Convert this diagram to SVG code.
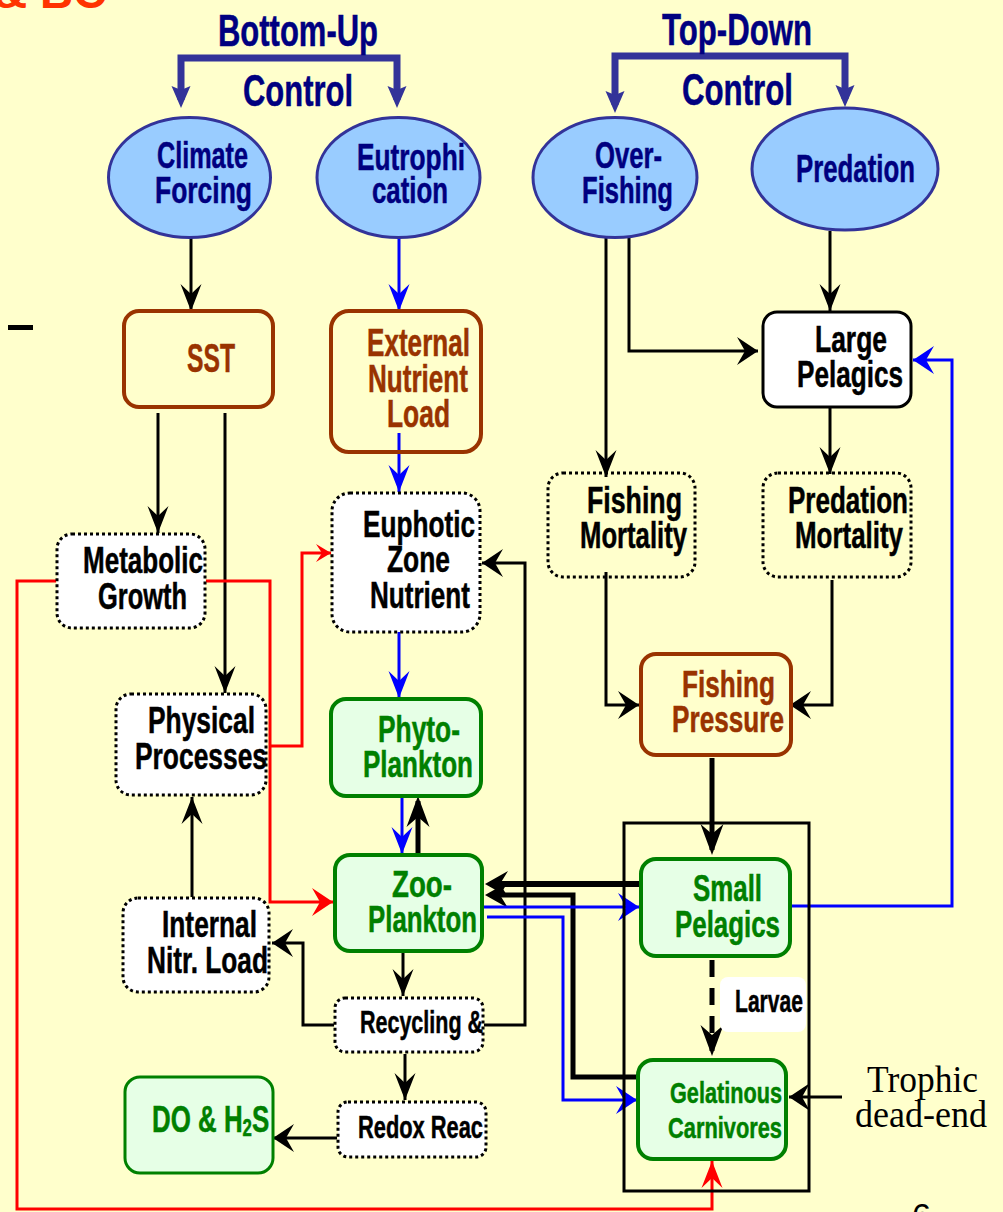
<svg xmlns="http://www.w3.org/2000/svg" width="1003" height="1212" viewBox="0 0 1003 1212">
<style>
.t{font-family:"Liberation Sans",Arial,sans-serif;font-weight:bold;stroke-width:0.5}
.nv{fill:#000080;stroke:#000080}.brn{fill:#993300;stroke:#993300}.grn{fill:#008000;stroke:#008000}.blk{fill:#000;stroke:#000}
.ell{fill:#99CCFF;stroke:#333399;stroke-width:3}
.bbox{fill:none;stroke:#993300;stroke-width:4}
.gbox{fill:#E6FFE6;stroke:#008000;stroke-width:4}
.dbox{fill:#fff;stroke:#000;stroke-width:3;stroke-dasharray:3 3}
.dboxy{fill:none;stroke:#000;stroke-width:3;stroke-dasharray:3 3}
.k{fill:none;stroke:#000;stroke-width:3}
.b{fill:none;stroke:#0000FF;stroke-width:3}
.r{fill:none;stroke:#FF0000;stroke-width:3}
.brk{fill:none;stroke:#333399;stroke-width:7}
</style>
<defs>
<marker id="nk" markerUnits="userSpaceOnUse" orient="auto" overflow="visible" markerWidth="1" markerHeight="1"><path d="M0,0 L-27,-10.5 L-17,0 L-27,10.5 Z" fill="#000"/></marker>
<marker id="wk" markerUnits="userSpaceOnUse" orient="auto" overflow="visible" markerWidth="1" markerHeight="1"><path d="M0,0 L-21,-14 L-13,0 L-21,14 Z" fill="#000"/></marker>
<marker id="nb" markerUnits="userSpaceOnUse" orient="auto" overflow="visible" markerWidth="1" markerHeight="1"><path d="M0,0 L-27,-10.5 L-17,0 L-27,10.5 Z" fill="#0000FF"/></marker>
<marker id="wb" markerUnits="userSpaceOnUse" orient="auto" overflow="visible" markerWidth="1" markerHeight="1"><path d="M0,0 L-21,-14 L-13,0 L-21,14 Z" fill="#0000FF"/></marker>
<marker id="nr" markerUnits="userSpaceOnUse" orient="auto" overflow="visible" markerWidth="1" markerHeight="1"><path d="M0,0 L-27,-10.5 L-17,0 L-27,10.5 Z" fill="#FF0000"/></marker>
<marker id="wr" markerUnits="userSpaceOnUse" orient="auto" overflow="visible" markerWidth="1" markerHeight="1"><path d="M0,0 L-21,-14 L-13,0 L-21,14 Z" fill="#FF0000"/></marker>
<marker id="sr" markerUnits="userSpaceOnUse" orient="auto" overflow="visible" markerWidth="1" markerHeight="1"><path d="M0,0 L-15,-9 L-9,0 L-15,9 Z" fill="#FF0000"/></marker>
<marker id="tv" markerUnits="userSpaceOnUse" orient="auto" overflow="visible" markerWidth="1" markerHeight="1"><path d="M5,0 L-26,-11.5 L-16,0 L-26,11.5 Z" fill="#000"/></marker>
<marker id="th" markerUnits="userSpaceOnUse" orient="auto" overflow="visible" markerWidth="1" markerHeight="1"><path d="M5,0 L-18,-13 L-10,0 L-18,13 Z" fill="#000"/></marker>
<marker id="bq" markerUnits="userSpaceOnUse" orient="auto-start-reverse" overflow="visible" markerWidth="1" markerHeight="1"><path d="M8,0 L-14,-9.5 L-10,0 L-14,9.5 Z" fill="#333399"/></marker>
</defs>
<rect x="0" y="0" width="1003" height="1212" fill="#FFFFCC"/>

<!-- decorative fragments -->
<text class="t" x="-6" y="8" font-size="46" fill="#FF3300" stroke="none">&amp; BC</text>
<rect x="8" y="325" width="25" height="5" fill="#000"/>
<text x="912" y="1227" font-family="Liberation Sans,Arial,sans-serif" font-size="34" fill="#000">6</text>

<!-- titles -->
<g id="bottom-up-control">
<path class="brk" d="M181,100 V58 H397 V100" marker-start="url(#bq)" marker-end="url(#bq)"/>
<text class="t nv" x="218" y="46" font-size="45" textLength="160" lengthAdjust="spacingAndGlyphs">Bottom-Up</text>
<text class="t nv" x="243" y="106" font-size="45" textLength="110" lengthAdjust="spacingAndGlyphs">Control</text>
</g>
<g id="top-down-control">
<path class="brk" d="M615,105 V56 H845 V99" marker-start="url(#bq)" marker-end="url(#bq)"/>
<text class="t nv" x="662" y="45" font-size="45" textLength="150" lengthAdjust="spacingAndGlyphs">Top-Down</text>
<text class="t nv" x="682" y="105" font-size="45" textLength="111" lengthAdjust="spacingAndGlyphs">Control</text>
</g>

<!-- connectors -->
<g id="connectors">
<path class="k" d="M191,238 V311" marker-end="url(#nk)"/>
<path class="k" d="M158,413 V533" marker-end="url(#nk)"/>
<path class="k" d="M225,413 V693" marker-end="url(#nk)"/>
<path class="k" d="M192,897 V797" marker-end="url(#nk)"/>
<path class="k" d="M334,1025 H303 V943 H272" marker-end="url(#wk)"/>
<path class="k" d="M484,1025 H525 V563 H482" marker-end="url(#wk)"/>
<path class="k" d="M403,952 V996" marker-end="url(#nk)"/>
<path class="k" d="M405,1054 V1100" marker-end="url(#nk)"/>
<path class="k" d="M337,1138 H273" marker-end="url(#wk)"/>
<path class="k" d="M606,236 V477" marker-end="url(#nk)"/>
<path class="k" d="M629,234 V351 H758" marker-end="url(#wk)"/>
<path class="k" d="M830,231 V311" marker-end="url(#nk)"/>
<path class="k" d="M830,408 V474" marker-end="url(#nk)"/>
<path class="k" d="M606,572 V705 H639" marker-end="url(#wk)"/>
<path class="k" d="M832,580 V705 H790" marker-end="url(#wk)"/>
<path class="k" d="M842,1097 H789" marker-end="url(#wk)"/>
<path class="k" d="M418,854 V801" style="stroke-width:5" marker-end="url(#tv)"/>
<path class="k" d="M712,758 V850" style="stroke-width:5" marker-end="url(#tv)"/>
<path class="k" d="M640,884 H490" style="stroke-width:6" marker-end="url(#th)"/>
<path class="k" d="M637,1077 H573 V895 H490" style="stroke-width:5" marker-end="url(#th)"/>
<path class="k" d="M712,960 V1051" style="stroke-width:5;stroke-dasharray:17 11" marker-end="url(#tv)"/>
<path class="b" d="M399,238 V311" marker-end="url(#nb)"/>
<path class="b" d="M399,433 V492" marker-end="url(#nb)"/>
<path class="b" d="M399,602 V698" marker-end="url(#nb)"/>
<path class="b" d="M402,797 V854" marker-end="url(#nb)"/>
<path class="b" d="M483,907 H639" marker-end="url(#wb)"/>
<path class="b" d="M487,917 H563 V1100 H637" marker-end="url(#wb)"/>
<path class="b" d="M791,906 H952 V360 H913" marker-end="url(#wb)"/>
<path class="r" d="M56,581 H17 V1209 H712 V1161" marker-end="url(#nr)"/>
<path class="r" d="M206,581 H270 V902 H333" marker-end="url(#wr)"/>
<path class="r" d="M270,746 H302 V553 H331" marker-end="url(#sr)"/>
</g>

<!-- ellipses -->
<g id="climate-forcing">
<ellipse class="ell" cx="189.5" cy="177.5" rx="81" ry="60"/>
<text class="t nv" x="157" y="168" font-size="36" textLength="91" lengthAdjust="spacingAndGlyphs">Climate</text>
<text class="t nv" x="155" y="203" font-size="36" textLength="97" lengthAdjust="spacingAndGlyphs">Forcing</text>
</g>
<g id="eutrophication">
<ellipse class="ell" cx="398.5" cy="177.5" rx="81.5" ry="60"/>
<text class="t nv" x="357" y="170" font-size="36" textLength="108" lengthAdjust="spacingAndGlyphs">Eutrophi</text>
<text class="t nv" x="372" y="203" font-size="36" textLength="76" lengthAdjust="spacingAndGlyphs">cation</text>
</g>
<g id="over-fishing">
<ellipse class="ell" cx="615" cy="177.5" rx="82" ry="60"/>
<text class="t nv" x="595" y="168" font-size="36" textLength="67" lengthAdjust="spacingAndGlyphs">Over-</text>
<text class="t nv" x="582" y="203" font-size="36" textLength="91" lengthAdjust="spacingAndGlyphs">Fishing</text>
</g>
<g id="predation">
<ellipse class="ell" cx="845" cy="169" rx="93" ry="61"/>
<text class="t nv" x="796" y="182" font-size="39" textLength="119" lengthAdjust="spacingAndGlyphs">Predation</text>
</g>

<!-- boxes -->
<g id="sst">
<rect class="bbox" x="124" y="311" width="149" height="96" rx="15"/>
<text class="t brn" x="187" y="372" font-size="40" textLength="48" lengthAdjust="spacingAndGlyphs">SST</text>
</g>
<g id="external-nutrient-load">
<rect class="bbox" x="331" y="311" width="150" height="141" rx="18"/>
<text class="t brn" x="367" y="356" font-size="38" textLength="103" lengthAdjust="spacingAndGlyphs">External</text>
<text class="t brn" x="368" y="392" font-size="38" textLength="100" lengthAdjust="spacingAndGlyphs">Nutrient</text>
<text class="t brn" x="387" y="427" font-size="38" textLength="63" lengthAdjust="spacingAndGlyphs">Load</text>
</g>
<g id="metabolic-growth">
<rect class="dbox" x="57" y="534" width="148" height="94" rx="15"/>
<text class="t blk" x="83" y="573" font-size="36" textLength="120" lengthAdjust="spacingAndGlyphs">Metabolic</text>
<text class="t blk" x="98" y="609" font-size="36" textLength="89" lengthAdjust="spacingAndGlyphs">Growth</text>
</g>
<g id="euphotic-zone-nutrient">
<rect class="dbox" x="332" y="493" width="148" height="139" rx="18"/>
<text class="t blk" x="363" y="537" font-size="36" textLength="112" lengthAdjust="spacingAndGlyphs">Euphotic</text>
<text class="t blk" x="387" y="572" font-size="36" textLength="63" lengthAdjust="spacingAndGlyphs">Zone</text>
<text class="t blk" x="370" y="608" font-size="36" textLength="100" lengthAdjust="spacingAndGlyphs">Nutrient</text>
</g>
<g id="large-pelagics">
<rect x="763" y="312" width="148" height="95" rx="14" fill="#fff" stroke="#000" stroke-width="3"/>
<text class="t blk" x="815" y="352" font-size="37" textLength="72" lengthAdjust="spacingAndGlyphs">Large</text>
<text class="t blk" x="797" y="387" font-size="37" textLength="106" lengthAdjust="spacingAndGlyphs">Pelagics</text>
</g>
<g id="fishing-mortality">
<rect class="dboxy" x="548" y="473" width="147" height="104" rx="15"/>
<text class="t blk" x="587" y="513" font-size="36" textLength="95" lengthAdjust="spacingAndGlyphs">Fishing</text>
<text class="t blk" x="580" y="548" font-size="36" textLength="107" lengthAdjust="spacingAndGlyphs">Mortality</text>
</g>
<g id="predation-mortality">
<rect class="dboxy" x="763" y="473" width="148" height="104" rx="15"/>
<text class="t blk" x="788" y="513" font-size="36" textLength="120" lengthAdjust="spacingAndGlyphs">Predation</text>
<text class="t blk" x="795" y="548" font-size="36" textLength="108" lengthAdjust="spacingAndGlyphs">Mortality</text>
</g>
<g id="physical-processes">
<rect class="dbox" x="116" y="694" width="150" height="101" rx="15"/>
<text class="t blk" x="148" y="733" font-size="36" textLength="107" lengthAdjust="spacingAndGlyphs">Physical</text>
<text class="t blk" x="135" y="769" font-size="36" textLength="132" lengthAdjust="spacingAndGlyphs">Processes</text>
</g>
<g id="phyto-plankton">
<rect class="gbox" x="331" y="699" width="150" height="97" rx="15"/>
<text class="t grn" x="378" y="742" font-size="37" textLength="82" lengthAdjust="spacingAndGlyphs">Phyto-</text>
<text class="t grn" x="363" y="777" font-size="37" textLength="110" lengthAdjust="spacingAndGlyphs">Plankton</text>
</g>
<g id="zoo-plankton">
<rect class="gbox" x="335" y="855" width="147" height="96" rx="15"/>
<text class="t grn" x="392" y="897" font-size="37" textLength="60" lengthAdjust="spacingAndGlyphs">Zoo-</text>
<text class="t grn" x="368" y="932" font-size="37" textLength="109" lengthAdjust="spacingAndGlyphs">Plankton</text>
</g>
<g id="internal-nitr-load">
<rect class="dbox" x="123" y="898" width="146" height="94" rx="15"/>
<text class="t blk" x="162" y="937" font-size="36" textLength="95" lengthAdjust="spacingAndGlyphs">Internal</text>
<text class="t blk" x="147" y="973" font-size="36" textLength="121" lengthAdjust="spacingAndGlyphs">Nitr. Load</text>
</g>
<g id="recycling">
<rect class="dbox" x="335" y="998" width="148" height="54" rx="10"/>
<text class="t blk" x="360" y="1033" font-size="32" textLength="123" lengthAdjust="spacingAndGlyphs">Recycling &amp;</text>
</g>
<g id="redox-reac">
<rect class="dbox" x="338" y="1102" width="148" height="55" rx="10"/>
<text class="t blk" x="358" y="1138" font-size="32" textLength="125" lengthAdjust="spacingAndGlyphs">Redox Reac</text>
</g>
<g id="do-h2s">
<rect class="gbox" x="125" y="1077" width="148" height="96" rx="15" style="stroke-width:3"/>
<text class="t grn" font-size="37" transform="translate(152,1132) scale(0.7,1)">DO &amp; H<tspan font-size="24" dy="4">2</tspan><tspan dy="-4">S</tspan></text>
</g>
<g id="fishing-pressure">
<rect class="bbox" x="641" y="654" width="150" height="101" rx="15"/>
<text class="t brn" x="682" y="697" font-size="37" textLength="93" lengthAdjust="spacingAndGlyphs">Fishing</text>
<text class="t brn" x="672" y="732" font-size="37" textLength="112" lengthAdjust="spacingAndGlyphs">Pressure</text>
</g>
<g id="small-gelatinous-group">
<rect x="624" y="823" width="185" height="368" fill="none" stroke="#000" stroke-width="3"/>
</g>
<g id="small-pelagics">
<rect class="gbox" x="641" y="859" width="149" height="97" rx="15"/>
<text class="t grn" x="693" y="901" font-size="36" textLength="69" lengthAdjust="spacingAndGlyphs">Small</text>
<text class="t grn" x="675" y="937" font-size="36" textLength="105" lengthAdjust="spacingAndGlyphs">Pelagics</text>
</g>
<g id="gelatinous-carnivores">
<rect class="gbox" x="638" y="1060" width="148" height="99" rx="15"/>
<text class="t grn" x="670" y="1103" font-size="30" textLength="112" lengthAdjust="spacingAndGlyphs">Gelatinous</text>
<text class="t grn" x="668" y="1138" font-size="30" textLength="114" lengthAdjust="spacingAndGlyphs">Carnivores</text>
</g>
<g id="larvae-label">
<rect x="720" y="977" width="86" height="55" rx="8" fill="#fff"/>
<text class="t blk" x="735" y="1012" font-size="32" textLength="68" lengthAdjust="spacingAndGlyphs">Larvae</text>
</g>
<g id="trophic-dead-end">
<text x="867" y="1092" font-family="'Liberation Serif','Times New Roman',serif" font-size="38" fill="#000" textLength="111" lengthAdjust="spacingAndGlyphs">Trophic</text>
<text x="855" y="1127" font-family="'Liberation Serif','Times New Roman',serif" font-size="38" fill="#000" textLength="132" lengthAdjust="spacingAndGlyphs">dead-end</text>
</g>
</svg>
